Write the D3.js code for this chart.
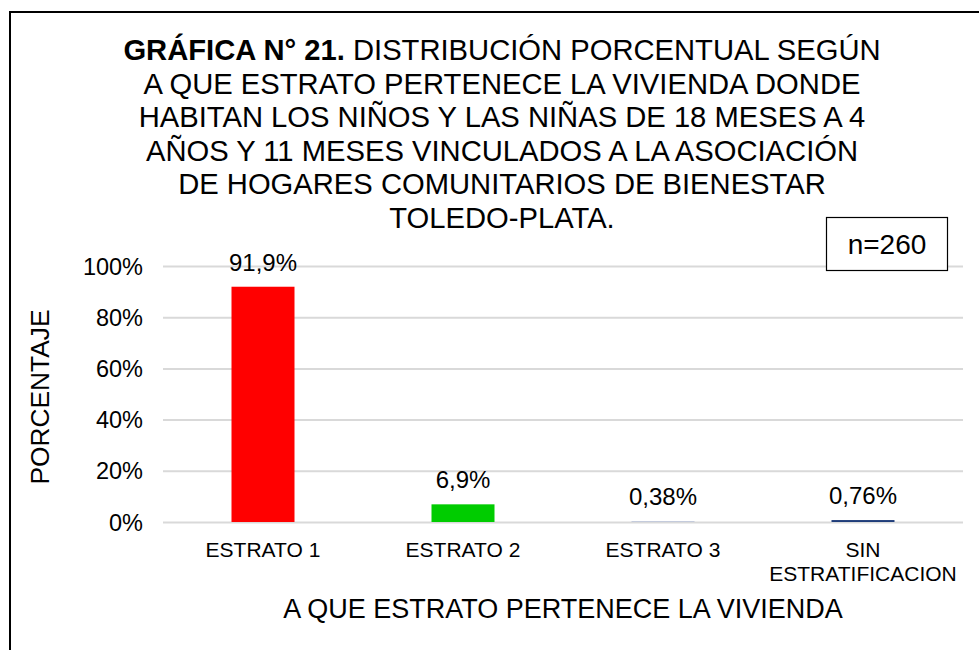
<!DOCTYPE html>
<html>
<head>
<meta charset="utf-8">
<script src="https://cdn.jsdelivr.net/npm/d3@7"></script>
<style>
  body { margin: 0; background: #fff; }
  svg { display: block; font-family: "Liberation Sans", Arial, sans-serif; }
</style>
</head>
<body>
<svg id="chart" width="979" height="650"></svg>
<script>
var categories = [["ESTRATO 1"], ["ESTRATO 2"], ["ESTRATO 3"], ["SIN", "ESTRATIFICACION"]];
var values = [91.9, 6.9, 0.38, 0.76];
var valueLabels = ["91,9%", "6,9%", "0,38%", "0,76%"];
var colours = ["#ff0000", "#00cc00", "#c3cadb", "#1f3d7a"];
var yTicks = [0, 20, 40, 60, 80, 100];
var titleLines = [
  ["GRÁFICA N° 21.", " DISTRIBUCIÓN PORCENTUAL SEGÚN"],
  ["", "A QUE ESTRATO PERTENECE LA VIVIENDA DONDE"],
  ["", "HABITAN LOS NIÑOS Y LAS NIÑAS DE 18 MESES A 4"],
  ["", "AÑOS Y 11 MESES VINCULADOS A LA ASOCIACIÓN"],
  ["", "DE HOGARES COMUNITARIOS DE BIENESTAR"],
  ["", "TOLEDO-PLATA."]
];

var svg = d3.select("#chart");
var margin = { left: 163, right: 16, top: 266, bottom: 128 };
var width = 979 - margin.left - margin.right;
var height = 650 - margin.top - margin.bottom;

// outer frame (only left and top edges show in the crop)
svg.append("path")
  .attr("d", "M10,650 L10,12 L979,12")
  .attr("fill", "none")
  .attr("stroke", "#000")
  .attr("stroke-width", 2);

var title = svg.append("text")
  .attr("text-anchor", "middle")
  .attr("font-size", 29.2)
  .attr("fill", "#000");
titleLines.forEach(function (line, i) {
  var t = title.append("tspan").attr("x", 502).attr("y", 60 + i * 33.6);
  if (line[0]) t.append("tspan").attr("font-weight", "bold").text(line[0]);
  t.append("tspan").text(line[1]);
});

var g = svg.append("g")
  .attr("transform", "translate(" + margin.left + "," + margin.top + ")");

var x = d3.scaleBand()
  .domain(d3.range(categories.length))
  .range([0, width])
  .paddingInner(0.685)
  .paddingOuter(0.3425);

var y = d3.scaleLinear().domain([0, 100]).range([height, 0]);

var yAxis = g.append("g")
  .call(d3.axisLeft(y).tickValues(yTicks).tickSize(-width).tickFormat(function (d) { return d + "%"; }));
yAxis.select(".domain").remove();
yAxis.selectAll(".tick line").attr("stroke", "#d9d9d9").attr("stroke-width", 2);
yAxis.selectAll(".tick text")
  .attr("x", -20)
  .attr("dy", "0.34em")
  .attr("font-size", 23.5)
  .attr("font-family", "Liberation Sans, Arial, sans-serif")
  .attr("fill", "#000");

g.selectAll("rect.bar").data(values).enter()
  .append("rect")
  .attr("class", "bar")
  .attr("x", function (d, i) { return x(i); })
  .attr("y", function (d) { return y(d); })
  .attr("width", x.bandwidth())
  .attr("height", function (d) { return height - y(d); })
  .attr("fill", function (d, i) { return colours[i]; });

g.selectAll("text.val").data(values).enter()
  .append("text")
  .attr("class", "val")
  .attr("x", function (d, i) { return x(i) + x.bandwidth() / 2; })
  .attr("y", function (d) { return y(d) - 16; })
  .attr("text-anchor", "middle")
  .attr("font-size", 24)
  .attr("fill", "#000")
  .text(function (d, i) { return valueLabels[i]; });

var cat = g.selectAll("text.cat").data(categories).enter()
  .append("text")
  .attr("class", "cat")
  .attr("text-anchor", "middle")
  .attr("font-size", 21)
  .attr("fill", "#000");
cat.each(function (lines, i) {
  var el = d3.select(this);
  lines.forEach(function (l, j) {
    el.append("tspan")
      .attr("x", x(i) + x.bandwidth() / 2)
      .attr("y", height + 35 + j * 24)
      .text(l);
  });
});

svg.append("text")
  .attr("x", 563)
  .attr("y", 618)
  .attr("text-anchor", "middle")
  .attr("font-size", 27)
  .attr("fill", "#000")
  .text("A QUE ESTRATO PERTENECE LA VIVIENDA");

svg.append("text")
  .attr("transform", "translate(49," + (margin.top + height / 2 + 3) + ") rotate(-90)")
  .attr("text-anchor", "middle")
  .attr("font-size", 26.3)
  .attr("fill", "#000")
  .text("PORCENTAJE");

// sample size box
svg.append("rect")
  .attr("x", 826.5).attr("y", 217.5)
  .attr("width", 121).attr("height", 53)
  .attr("fill", "#fff")
  .attr("stroke", "#000")
  .attr("stroke-width", 1.2);
svg.append("text")
  .attr("x", 887).attr("y", 254)
  .attr("text-anchor", "middle")
  .attr("font-size", 28)
  .attr("fill", "#000")
  .text("n=260");
</script>
</body>
</html>
